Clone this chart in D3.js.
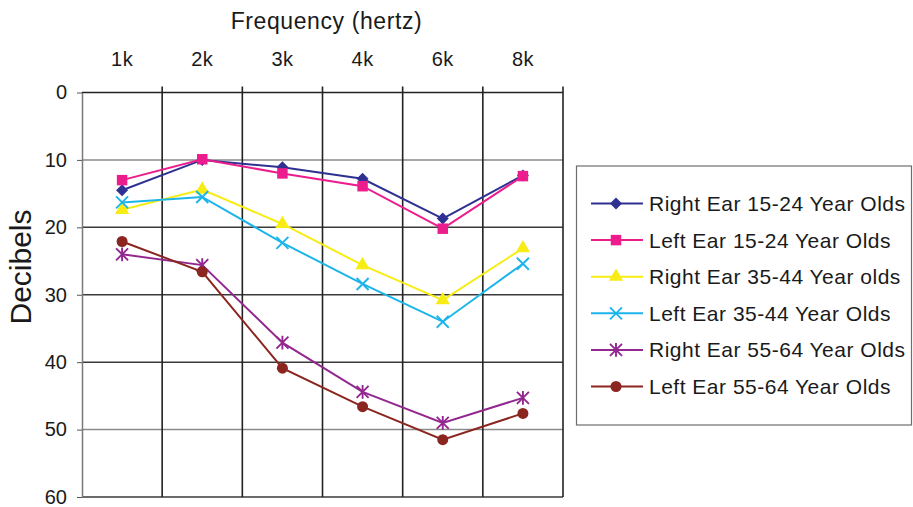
<!DOCTYPE html>
<html>
<head>
<meta charset="utf-8">
<script src="https://cdn.jsdelivr.net/npm/d3@7"></script>
<style>
  html, body { margin: 0; padding: 0; background: #ffffff; }
  #chart { width: 913px; height: 507px; }
  text { font-family: Arial, "Liberation Sans", sans-serif; fill: #1a1a1a; }
</style>
</head>
<body>
<div id="chart"></div>
<script>
const frequencies = ["1k", "2k", "3k", "4k", "6k", "8k"];
const seriesNames = [
  "Right Ear 15-24 Year Olds",
  "Left Ear 15-24 Year Olds",
  "Right Ear 35-44 Year olds",
  "Left Ear 35-44 Year Olds",
  "Right Ear 55-64 Year Olds",
  "Left Ear 55-64 Year Olds"
];
const right1524 = [14.5, 10.0, 11.1, 12.8, 18.7, 12.3];
const left1524 = [13.0, 9.9, 12.0, 13.9, 20.2, 12.4];
const right3544 = [17.4, 14.4, 19.5, 25.6, 30.8, 23.1];
const left3544 = [16.3, 15.5, 22.3, 28.4, 34.0, 25.4];
const right5564 = [24.0, 25.6, 37.1, 44.4, 49.0, 45.3];
const left5564 = [22.1, 26.6, 40.9, 46.6, 51.5, 47.6];
const yTicks = [0, 10, 20, 30, 40, 50, 60];

const seriesValues = [right1524, left1524, right3544, left3544, right5564, left5564];
const colors = ["#2e3192", "#ec1c8c", "#f7ec13", "#1cb5ea", "#92278f", "#8b2520"];
const markers = ["diamond", "square", "triangle", "x", "asterisk", "circle"];

(function() {
  const width = 913;
  const height = 507;
  const left = 82, right = 563, top = 92.5, bottom = 497;

  const svg = d3.select("#chart")
    .append("svg")
    .attr("width", width)
    .attr("height", height)
    .attr("viewBox", `0 0 ${width} ${height}`);

  const x = d3.scaleBand().domain(frequencies).range([left, right]).padding(0);
  const y = d3.scaleLinear().domain([0, 60]).range([top, bottom]);
  const cx = f => x(f) + x.bandwidth() / 2;

  // marker shapes
  const markerPath = (type) => {
    if (type === "diamond") return d3.symbol(d3.symbolSquare, 72)();
    if (type === "square") return d3.symbol(d3.symbolSquare, 110)();
    if (type === "triangle") return d3.symbol(d3.symbolTriangle, 88)();
    if (type === "circle") return d3.symbol(d3.symbolCircle, 95)();
    const p = d3.path();
    const r = 6;
    p.moveTo(-r, -r); p.lineTo(r, r);
    p.moveTo(-r, r); p.lineTo(r, -r);
    if (type === "asterisk") { p.moveTo(0, -r * 1.15); p.lineTo(0, r * 1.15); }
    return p.toString();
  };
  const drawMarker = (sel, i) => {
    const t = markers[i];
    const stroked = t === "x" || t === "asterisk";
    sel.append("path")
      .attr("d", markerPath(t))
      .attr("transform", d => `translate(${d[0]},${d[1]})` + (t === "diamond" ? " rotate(45)" : ""))
      .attr("fill", stroked ? "none" : colors[i])
      .attr("stroke", stroked ? colors[i] : "none")
      .attr("stroke-width", 1.9);
  };

  // grid
  const grid = svg.append("g");
  grid.selectAll("line.h")
    .data(yTicks.slice(1))
    .join("line")
    .attr("x1", left).attr("x2", right)
    .attr("y1", d => y(d)).attr("y2", d => y(d))
    .attr("stroke", d => (d === 10 || d === 50) ? "#8a8a8a" : "#3a3a3a")
    .attr("stroke-width", 1.5);
  grid.append("line")
    .attr("x1", left).attr("x2", right)
    .attr("y1", y(0)).attr("y2", y(0))
    .attr("stroke", "#222").attr("stroke-width", 1.5);

  const bounds = frequencies.map(f => x(f)).concat([right]).slice(1);
  grid.selectAll("line.v")
    .data(bounds)
    .join("line")
    .attr("x1", d => d).attr("x2", d => d)
    .attr("y1", top - 6).attr("y2", bottom)
    .attr("stroke", "#222")
    .attr("stroke-width", 1.6);

  // left axis
  const yAxis = svg.append("g")
    .attr("transform", `translate(${left},0)`)
    .call(d3.axisLeft(y).tickValues(yTicks).tickSize(5).tickSizeOuter(0).tickPadding(10));
  yAxis.select(".domain").attr("stroke", "#7a7a7a").attr("stroke-width", 1.5);
  yAxis.selectAll(".tick line").attr("stroke", "#555");
  yAxis.selectAll(".tick text")
    .attr("fill", "#1a1a1a")
    .style("font-size", "20px")
    .style("font-family", "Arial, 'Liberation Sans', sans-serif");

  // top frequency labels
  svg.append("g").selectAll("text")
    .data(frequencies)
    .join("text")
    .attr("x", d => cx(d))
    .attr("y", 66)
    .attr("text-anchor", "middle")
    .style("font-size", "20px")
    .style("letter-spacing", "0.4px")
    .text(d => d);

  svg.append("text")
    .attr("x", (left + right) / 2 + 4)
    .attr("y", 29)
    .attr("text-anchor", "middle")
    .style("font-size", "23px")
    .style("letter-spacing", "0.6px")
    .text("Frequency (hertz)");

  svg.append("text")
    .attr("transform", `translate(31, 267) rotate(-90)`)
    .attr("text-anchor", "middle")
    .style("font-size", "30px")
    .text("Decibels");

  // series
  const line = d3.line().x(d => d[0]).y(d => d[1]);
  seriesValues.forEach((vals, i) => {
    const pts = vals.map((v, j) => [cx(frequencies[j]), y(v)]);
    const g = svg.append("g");
    g.append("path")
      .attr("d", line(pts))
      .attr("fill", "none")
      .attr("stroke", colors[i])
      .attr("stroke-width", 2);
    const m = g.selectAll("g.pt").data(pts).join("g");
    drawMarker(m, i);
  });

  // legend
  const leg = svg.append("g");
  leg.append("rect")
    .attr("x", 576.5).attr("y", 166)
    .attr("width", 335).attr("height", 259)
    .attr("fill", "#fff")
    .attr("stroke", "#6e6e6e")
    .attr("stroke-width", 1.2);
  seriesNames.forEach((name, i) => {
    const ly = 203.5 + i * 36.6;
    const row = leg.append("g");
    row.append("line")
      .attr("x1", 591).attr("x2", 643)
      .attr("y1", ly).attr("y2", ly)
      .attr("stroke", colors[i]).attr("stroke-width", 2);
    const m = row.selectAll("g.mk").data([[616, ly]]).join("g");
    drawMarker(m, i);
    row.append("text")
      .attr("x", 649)
      .attr("y", ly)
      .attr("dy", "0.36em")
      .style("font-size", "21px")
      .style("letter-spacing", "0.5px")
      .text(name);
  });
})();
</script>
</body>
</html>
